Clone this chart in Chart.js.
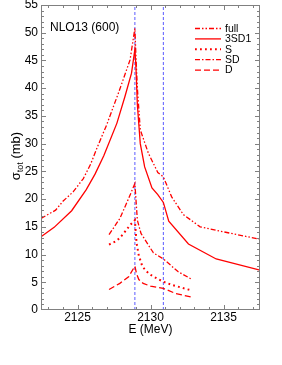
<!DOCTYPE html>
<html>
<head>
<meta charset="utf-8">
<script src="https://cdn.jsdelivr.net/npm/chart.js@4/dist/chart.umd.min.js"></script>
<style>
  html, body { margin: 0; padding: 0; background: #fff; }
</style>
</head>
<body>
<canvas id="c" width="282" height="365"></canvas>
<script>
// values
const fullE = [2122.5, 2123.5, 2124.0, 2124.7, 2125.4, 2125.9, 2126.3, 2127.0, 2127.8, 2128.6, 2128.93, 2129.0, 2129.1, 2129.3, 2129.85, 2130.5, 2130.88, 2131.45, 2132.25, 2133.4, 2135.0, 2137.5]
const full  = [16.5, 18.0, 19.6, 21.3, 23.7, 26.3, 29.0, 33.4, 39.1, 45.1, 50.8, 46.0, 40.0, 32.5, 28.3, 24.8, 24.0, 20.4, 17.2, 15.0, 14.1, 12.75]

const sd1E = [2122.5, 2123.4, 2124.6, 2125.6, 2126.2, 2126.8, 2127.7, 2128.25, 2128.7, 2128.93, 2129.0, 2129.1, 2129.3, 2129.6, 2130.1, 2130.5, 2130.88, 2131.25, 2132.6, 2134.5, 2137.5]
const sd1  = [13.2, 14.9, 17.9, 21.7, 24.5, 27.8, 33.7, 38.5, 42.7, 47.0, 44.0, 37.0, 30.0, 25.8, 22.0, 20.8, 19.4, 16.0, 11.9, 9.2, 7.2]

const sE = [2127.16, 2127.7, 2128.1, 2128.6, 2128.93, 2129.05, 2129.2, 2129.45, 2129.9, 2130.5, 2130.88, 2131.5, 2132.3, 2132.85]
const s  = [11.8, 12.5, 13.6, 15.3, 16.2, 12.0, 9.8, 7.8, 6.5, 5.6, 5.1, 4.5, 3.9, 3.5]

const sdE = [2127.16, 2127.9, 2128.5, 2128.93, 2129.1, 2129.35, 2130.2, 2130.88, 2131.9, 2132.85]
const sd  = [13.6, 16.5, 20.1, 22.8, 16.2, 13.8, 10.3, 9.2, 6.9, 5.5]

const dE = [2127.16, 2127.9, 2128.5, 2128.93, 2129.05, 2129.2, 2129.5, 2130.0, 2130.88, 2131.7, 2132.85]
const d  = [3.7, 4.8, 6.0, 7.9, 6.5, 5.5, 4.8, 4.3, 3.9, 3.0, 2.3]

const thresholds = [2128.93, 2130.88]

const xTicks = [2125, 2130, 2135]
const yTicks = [0, 5, 10, 15, 20, 25, 30, 35, 40, 45, 50, 55]

const FONT = "'Liberation Sans', Arial, Helvetica, sans-serif"
const RED = '#ff0000'

const pts = (xs, ys) => xs.map((v, i) => ({x: v, y: ys[i]}))

const curve = (label, xs, ys, dash, width) => ({
    label: label,
    data: pts(xs, ys),
    borderColor: RED,
    backgroundColor: RED,
    borderWidth: width || 1.3,
    borderDash: dash,
    pointRadius: 0,
    showLine: true,
    tension: 0,
    order: 1
})

const datasets = [
    curve('full', fullE, full, [5, 2, 1.5, 2, 1.5, 2]),
    curve('3SD1', sd1E, sd1, []),
    curve('S', sE, s, [1.8, 3.2], 2),
    curve('SD', sdE, sd, [5, 2, 1.5, 2]),
    curve('D', dE, d, [6, 3])
]
for (const t of thresholds) {
    datasets.push({
        label: '',
        data: [{x: t, y: 0}, {x: t, y: 55}],
        borderColor: '#5a5aff',
        borderWidth: 1,
        borderDash: [3, 2],
        pointRadius: 0,
        showLine: true,
        order: 5
    })
}

// box, inward ticks, legend and labels
const decor = {
    id: 'decor',
    afterDraw(chart) {
        const ctx = chart.ctx
        const a = chart.chartArea
        const x = chart.scales.x, y = chart.scales.y
        ctx.save()
        ctx.strokeStyle = '#808080'
        ctx.lineWidth = 1
        ctx.strokeRect(Math.round(a.left) + 0.5, Math.round(a.top) + 0.5, Math.round(a.width) - 1, Math.round(a.height) - 1)

        ctx.beginPath()
        for (let v = 2123; v <= 2137; v++) {
            const px = Math.round(x.getPixelForValue(v)) + 0.5
            const len = v % 5 == 0 ? 5 : 3
            ctx.moveTo(px, a.bottom); ctx.lineTo(px, a.bottom - len)
            ctx.moveTo(px, a.top); ctx.lineTo(px, a.top + len)
        }
        for (let v = 1; v < 55; v++) {
            const py = Math.round(y.getPixelForValue(v)) + 0.5
            const len = v % 5 == 0 ? 5 : 3
            ctx.moveTo(a.left, py); ctx.lineTo(a.left + len, py)
            ctx.moveTo(a.right, py); ctx.lineTo(a.right - len, py)
        }
        ctx.stroke()

        // title
        ctx.fillStyle = '#000'
        ctx.font = '12px ' + FONT
        ctx.textBaseline = 'alphabetic'
        ctx.textAlign = 'left'
        ctx.fillText('NLO13 (600)', 50, 31)

        // legend
        ctx.font = '10.5px ' + FONT
        ctx.textBaseline = 'middle'
        let ly = 28
        for (const ds of chart.data.datasets) {
            if (!ds.label) continue
            ctx.strokeStyle = RED
            ctx.lineWidth = ds.borderWidth
            ctx.setLineDash(ds.borderDash)
            ctx.beginPath()
            ctx.moveTo(195, ly + 0.5); ctx.lineTo(221, ly + 0.5)
            ctx.stroke()
            ctx.setLineDash([])
            ctx.fillText(ds.label, 225, ly + 1)
            ly += 10.4
        }

        // x title
        ctx.font = '12px ' + FONT
        ctx.textAlign = 'center'
        ctx.textBaseline = 'alphabetic'
        ctx.fillText('E (MeV)', (a.left + a.right) / 2, 333)

        // y title with subscript
        ctx.translate(20, 156)
        ctx.rotate(-Math.PI / 2)
        const big = '13px ' + FONT, small = '9px ' + FONT
        ctx.font = big
        const w1 = ctx.measureText('σ').width
        const w3 = ctx.measureText(' (mb)').width
        ctx.font = small
        const w2 = ctx.measureText('tot').width
        let tx = -(w1 + w2 + w3) / 2
        ctx.textAlign = 'left'
        ctx.font = big
        ctx.fillText('σ', tx, 0)
        tx += w1
        ctx.font = small
        ctx.fillText('tot', tx, 3)
        tx += w2
        ctx.font = big
        ctx.fillText(' (mb)', tx, 0)
        ctx.restore()
    }
}

const config = {
    type: 'scatter',
    data: {datasets: datasets},
    options: {
        responsive: false,
        animation: false,
        devicePixelRatio: 1,
        layout: {padding: {left: 0, top: 5, right: 22, bottom: 0}},
        plugins: {legend: {display: false}, tooltip: {enabled: false}},
        scales: {
            x: {
                type: 'linear',
                min: 2122.5,
                max: 2137.5,
                grid: {display: false, drawTicks: false},
                border: {display: false},
                ticks: {color: '#000', font: {family: FONT, size: 12}, padding: 0.5, callback: (v) => String(v)},
                afterBuildTicks: (scale) => { scale.ticks = xTicks.map(v => ({value: v})) },
                afterFit: (scale) => { scale.height = 55; scale.paddingLeft = 0; scale.paddingRight = 0 }
            },
            y: {
                type: 'linear',
                min: 0,
                max: 55,
                grid: {display: false, drawTicks: false},
                border: {display: false},
                ticks: {color: '#000', font: {family: FONT, size: 12}, padding: 3, callback: (v) => String(v)},
                afterBuildTicks: (scale) => { scale.ticks = yTicks.map(v => ({value: v})) },
                afterFit: (scale) => { scale.width = 41; scale.paddingTop = 0; scale.paddingBottom = 0 }
            }
        }
    },
    plugins: [decor]
}

document.addEventListener("DOMContentLoaded", function () {
    new Chart(document.querySelector('#c'), config)
})
</script>
</body>
</html>
